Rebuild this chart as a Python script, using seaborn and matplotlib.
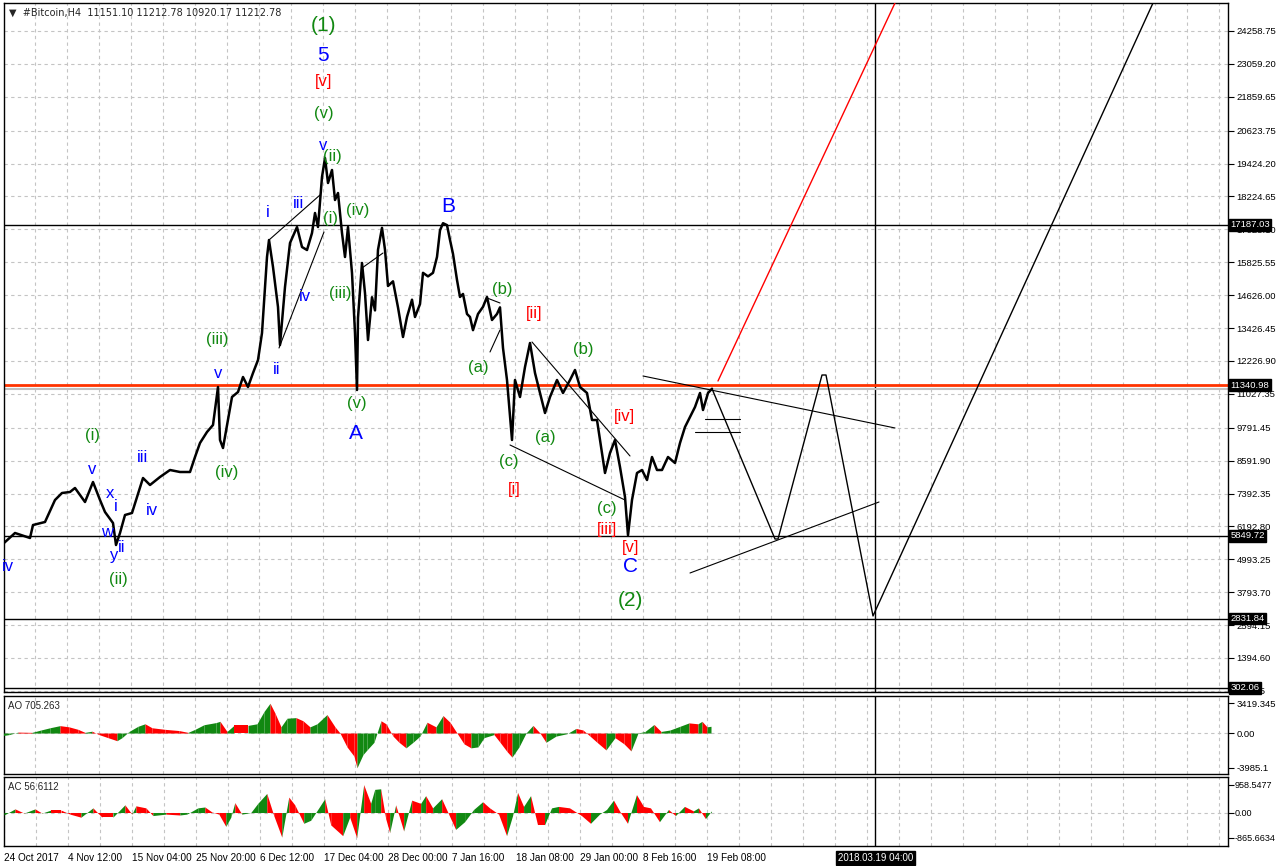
import matplotlib
matplotlib.use("Agg")
import matplotlib.pyplot as plt
import matplotlib.transforms as mtransforms
import pandas as pd
import seaborn as sns

# ----------------------------------------------------------
# DATA  (x = H4 bar number counted from 24 Oct 2017 00:00)
# ----------------------------------------------------------
price_bars = [1, 12, 27, 30, 42, 52, 59, 67, 72, 82, 90, 97, 102, 110, 113, 117, 122, 129,
              134, 140, 147, 157, 167, 177, 187, 192, 197, 204, 210, 215, 217, 220, 225, 229,
              235, 240, 245, 250, 255, 259, 264, 266, 270, 275, 277, 282, 287, 294, 299, 304,
              309, 312, 315, 319, 322, 325, 329, 332, 335, 339, 342, 345, 349, 352, 354, 355,
              359, 362, 365, 369, 372, 375, 379, 382, 385, 390, 395, 400, 404, 409, 412, 417,
              420, 425, 430, 434, 437, 440, 444, 447, 450, 454, 457, 460, 464, 467, 470, 475,
              480, 484, 489, 494, 497, 500, 504, 509,
              512, 517, 522, 527, 532, 537, 542, 547, 554, 560, 567, 572, 577, 584, 589, 594,
              599, 602, 607, 612, 617, 622, 625, 629, 634, 639, 644, 649, 654, 659, 665, 672,
              677, 682, 687, 692, 697, 700, 705, 709]
price_close = [5588, 5953, 5770, 6244, 6354, 7156, 7411, 7448, 7594, 7083, 7812, 7156, 6718,
               6317, 5515, 5953, 6609, 6682, 7265, 7958, 7703, 7995, 8250, 8177, 8177, 8724,
               9235, 9636, 9891, 11277, 9344, 9052, 10073, 10912, 11094, 11641, 11277, 11787,
               12261, 13246, 16017, 16637, 15653, 14194, 12808, 14923, 16528, 17111, 16382,
               16272, 16892, 17622, 17111, 18935, 19627, 18716, 19190, 18096, 18351, 16892,
               16017, 17111, 15434, 13246, 11167, 13800,
               15800, 14700, 12990, 14550, 14070, 16280, 17080, 16280, 14960, 15130, 14180,
               13100, 13830, 14460, 13830, 14300, 15440, 15310, 15440, 16020, 16990, 17250,
               17180, 16640, 16130, 15180, 14560, 14670, 13940, 13830, 13350, 13940,
               14200, 14560, 13720, 13940, 14180, 12700, 11532, 9344,
               11532, 10912, 12006, 12881, 11787, 11058,
               10329, 10912, 11532, 11058, 11532, 11897, 11277, 11058, 10073, 10073, 8870,
               8141, 8870, 9344, 8359, 7265, 5870, 7156, 8141, 8250, 7885, 8724, 8250, 8250,
               8724, 8505, 9235, 9818, 10183, 10547, 11058, 10438, 11058, 11213]

ao_bars = [0, 6, 15, 29, 38, 47, 57, 66, 75, 82, 89, 96, 105, 114, 119, 126, 135, 142, 149,
           162, 176, 185, 192, 201, 213, 217, 224, 231, 245, 254, 261, 267, 272, 278, 284,
           293, 300, 307, 314, 324, 332, 337, 344, 351, 354, 360, 364, 371, 378, 383, 390,
           396, 403, 410, 417, 424, 433, 440, 447, 454, 461, 468, 475, 481, 491, 497, 504,
           509, 516, 523, 530, 537, 543, 553, 564, 573, 580, 587, 594, 603, 612, 621, 628,
           635, 642, 651, 658, 667, 677, 686, 695, 699, 704, 708]
ao_values = [-285, -180, 105, 75, 350, 605, 850, 710, 425, 75, 210, -180, -530, -880, -530,
             180, 775, 1060, 605, 425, 285, 75, 425, 955, 1200, 1345, 180, 880, 880, 1060,
             2470, 3419, 2290, 710, 1700, 1770, 1410, 710, 1060, 2120, 710, 0, -1590, -2650,
             -3985, -2470, -1940, -1060, 1410, 1060, -350, -1060, -1700, -1060, -350, 1240,
             710, 2010, 1240, 0, -1240, -1700, -1590, -530, -180, -1060, -2120, -2760, -1590,
             0, 880, 0, -1060, -350, -75, 530, 350, -350, -1060, -1940, -530, -1240, -2050,
             0, 180, 985, 180, 350, 775, 1165, 1060, 1345, 710, 775]

ac_bars = [0, 11, 20, 31, 38, 47, 57, 66, 77, 89, 98, 109, 121, 128, 132, 142, 149, 162, 176,
           183, 194, 201, 208, 215, 222, 227, 231, 238, 247, 254, 263, 270, 278, 285, 291,
           300, 307, 321, 327, 339, 346, 353, 360, 367, 371, 377, 382, 386, 392, 400, 408,
           417, 422, 429, 438, 445, 452, 461, 470, 479, 486, 495, 503, 509, 514, 520, 527,
           534, 541, 548, 555, 566, 578, 587, 596, 603, 610, 617, 624, 633, 640, 647, 656,
           665, 672, 681, 690, 695, 702, 708]
ac_values = [-85, 125, -20, 125, -20, 85, 85, -55, -160, 160, -160, -160, 265, -55, 230, 160,
             -105, -55, -85, -55, 160, 190, 20, -55, -475, -160, 340, -55, 0, 315, 655, -105,
             -845, 530, 265, -370, -265, 475, -425, -795, -160, -866, 958, 315, 795, 815, -210,
             -690, 265, -635, 425, 315, 580, 160, 475, -55, -580, -315, 105, 370, 160, -55,
             -795, -105, 690, 210, 580, -425, -425, 160, 210, 160, -105, -370, -55, 105, 425,
             0, -370, 615, 210, 160, -315, 105, -105, 210, 55, 160, -210, 55]

price_ticks = [24258.75, 23059.20, 21859.65, 20623.75, 19424.20, 18224.65, 17025.10,
               15825.55, 14626.00, 13426.45, 12226.90, 11027.35, 9791.45, 8591.90, 7392.35,
               6192.80, 4993.25, 3793.70, 2594.15, 1394.60, 195.05]
level_prices = [17187.03, 5849.72, 2831.84, 302.06]
red_level = 11340.98
bid_price = 11212.78

date_bars = [0, 64, 128, 192, 256, 320, 384, 448, 512, 576, 640, 704]
date_labels = ["24 Oct 2017", "4 Nov 12:00", "15 Nov 04:00", "25 Nov 20:00", "6 Dec 12:00",
               "17 Dec 04:00", "28 Dec 00:00", "7 Jan 16:00", "18 Jan 08:00", "29 Jan 00:00",
               "8 Feb 16:00", "19 Feb 08:00"]
cursor_bar = 872
cursor_label = "2018.03.19 04:00"

# wave labels: text, bar, price, colour key
wave_text = ["(1)", "5", "[v]", "(v)", "v", "(ii)", "i", "iii", "(i)", "(iv)", "iv", "(iii)",
             "ii", "(iii)", "v", "B", "(v)", "A", "(i)", "v", "iii", "(iv)", "x", "i", "iv",
             "w", "ii", "y", "(ii)", "iv", "(b)", "[ii]", "(a)", "(b)", "[iv]", "(a)", "(c)",
             "[i]", "(c)", "[iii]", "[v]", "C", "(2)"]
wave_bar = [320, 320, 321, 321, 320, 329, 265, 295, 327, 355, 302, 337, 274, 214, 215, 445,
            354, 353, 90, 89, 139, 224, 107, 113, 149, 104, 119, 111, 115, 5, 499, 531, 475,
            580, 621, 542, 506, 511, 604, 604, 628, 628, 627]
wave_price = [24477, 23383, 22399, 21232, 20101, 19664, 17622, 17986, 17439, 17731, 14559,
              14704, 11897, 13027, 11751, 17841, 10693, 9599, 9490, 8286, 8688, 8177, 7411,
              6901, 6791, 5953, 5406, 5150, 4239, 4713, 14814, 13975, 11970, 12662, 10219,
              9417, 8578, 7521, 6864, 6098, 5406, 4713, 3509]
wave_colour = ["g", "b", "r", "g", "b", "g", "b", "b", "g", "g", "b", "g", "b", "g", "b", "b",
               "g", "b", "g", "b", "b", "g", "b", "b", "b", "b", "b", "b", "g", "b", "g", "r",
               "g", "g", "r", "g", "g", "r", "g", "r", "r", "b", "g"]
wave_big = ["(1)", "5", "A", "B", "C", "(2)"]

# drawn trend lines: (bar0, price0, bar1, price1)
trend_lines = [(266, 16637, 317, 18278), (276, 12699, 321, 16929), (359, 15616, 380, 16163),
               (484, 14523, 497, 14340), (487, 12553, 497, 13355), (529, 12918, 627, 8761),
               (507, 9162, 622, 7156), (640, 11678, 892, 9782), (687, 4494, 876, 7083),
               (702, 10110, 737, 10110), (692, 9636, 737, 9636)]
path_bars = [709, 772, 775, 819, 823, 870, 1150]
path_prices = [11213, 5734, 5734, 11714, 11714, 2927, 25280]
red_path_bars = [715, 892]
red_path_prices = [11496, 25280]

# ----------------------------------------------------------
# FIGURE
# ----------------------------------------------------------
sns.set_style("white")
plt.rcParams["font.family"] = ["Liberation Sans", "DejaVu Sans"]

W, H = 1276, 866
fig = plt.figure(figsize=(W / 100, H / 100), dpi=100)


def panel(top, bottom):
    return [4 / W, (H - bottom) / H, 1224 / W, (bottom - top) / H]


ax = fig.add_axes(panel(3, 692))
ax_ao = fig.add_axes(panel(696, 774))
ax_ac = fig.add_axes(panel(777, 846))

GREEN = "#118811"
COLOURS = {"g": GREEN, "b": "#0000ff", "r": "#ff0000"}
GRID = dict(color="#c4c4c4", lw=0.8, ls=(0, (3, 3)), zorder=0)

# ----------------------------------------------------------
# MAIN PRICE PANEL
# ----------------------------------------------------------
price_df = pd.DataFrame({"bar": price_bars, "price": price_close})
sns.lineplot(data=price_df, x="bar", y="price", color="black", lw=1.8, ax=ax,
             estimator=None, sort=False, zorder=4)

for a in (ax, ax_ao, ax_ac):
    a.set_xlim(1, 1225)
    for b in range(0, 1225, 32):
        a.axvline(b, **GRID)
    a.axvline(cursor_bar, color="black", lw=1, zorder=1)
    for s in a.spines.values():
        s.set_color("black")
        s.set_linewidth(1)
    a.yaxis.tick_right()
    a.tick_params(axis="y", length=4, width=0.8, pad=2, labelsize=6.8, colors="black",
                  direction="out")
    a.set_xlabel("")
    a.set_ylabel("")

ax.set_ylim(154.5, 25279.6)
for p in price_ticks:
    ax.axhline(p, **GRID)
for p in level_prices:
    ax.axhline(p, color="black", lw=1, zorder=2)
ax.axhline(bid_price, color="#c0c0c0", lw=1.5, zorder=2)
ax.axhline(red_level, color="#ff3300", lw=2, zorder=2)

for b0, p0, b1, p1 in trend_lines:
    ax.plot([b0, b1], [p0, p1], color="black", lw=0.8, zorder=3)
ax.plot(path_bars, path_prices, color="black", lw=1, zorder=3)
ax.plot(red_path_bars, red_path_prices, color="#ff0000", lw=1, zorder=3)

for t, b, p, c in zip(wave_text, wave_bar, wave_price, wave_colour):
    ax.text(b, p, t, color=COLOURS[c], fontsize=15 if t in wave_big else 12,
            ha="center", va="center", zorder=5)

ax.set_yticks(price_ticks)
ax.set_yticklabels([f"{p:.2f}" for p in price_ticks])
ax.tick_params(axis="x", bottom=False, labelbottom=False)

trans = mtransforms.blended_transform_factory(ax.transAxes, ax.transData)
for p in level_prices + [red_level]:
    ax.text(1.002, p, f"{p:.2f}", transform=trans, color="white", fontsize=6.8,
            ha="left", va="center", clip_on=False, zorder=10,
            bbox=dict(boxstyle="square,pad=0.15", fc="black", ec="black"))

ax.text(0.004, 0.993, "▼  #Bitcoin,H4  11151.10 11212.78 10920.17 11212.78",
        transform=ax.transAxes, fontsize=7, ha="left", va="top",
        family=["DejaVu Sans"], zorder=10)

# ----------------------------------------------------------
# AO / AC PANELS
# ----------------------------------------------------------
def histo(a, bars, values):
    for i in range(len(bars) - 1):
        c = GREEN if values[i + 1] > values[i] else "#ff0000"
        a.fill_between(bars[i:i + 2], 0, values[i:i + 2], color=c, lw=0, zorder=3)


histo(ax_ao, ao_bars, ao_values)
ax_ao.set_ylim(-4700, 4250)
ax_ao.axhline(0, **GRID)
ax_ao.set_yticks([-3985.1, 0, 3419.345])
ax_ao.set_yticklabels(["-3985.1", "0.00", "3419.345"])
ax_ao.tick_params(axis="x", bottom=False, labelbottom=False)
ax_ao.text(0.003, 0.93, "AO 705.263", transform=ax_ao.transAxes, fontsize=7,
           ha="left", va="top")

histo(ax_ac, ac_bars, ac_values)
ax_ac.set_ylim(-1150, 1220)
ax_ac.axhline(0, **GRID)
ax_ac.set_yticks([-865.6634, 0, 958.5477])
ax_ac.set_yticklabels(["-865.6634", "0.00", "958.5477"])
ax_ac.tick_params(axis="y", pad=1, labelsize=6.5)
ax_ac.text(0.003, 0.93, "AC 56.6112", transform=ax_ac.transAxes, fontsize=7,
           ha="left", va="top")

ax_ac.set_xticks(date_bars)
ax_ac.set_xticklabels(date_labels, ha="left")
ax_ac.tick_params(axis="x", length=4, width=0.8, pad=1, labelsize=7.2, colors="black",
                  direction="out")
ax_ac.text(cursor_bar, -0.18, cursor_label,
           transform=mtransforms.blended_transform_factory(ax_ac.transData, ax_ac.transAxes),
           color="white", fontsize=7, ha="center", va="center", clip_on=False,
           bbox=dict(boxstyle="square,pad=0.2", fc="black", ec="black"))

fig.savefig("out.png", dpi=100)
